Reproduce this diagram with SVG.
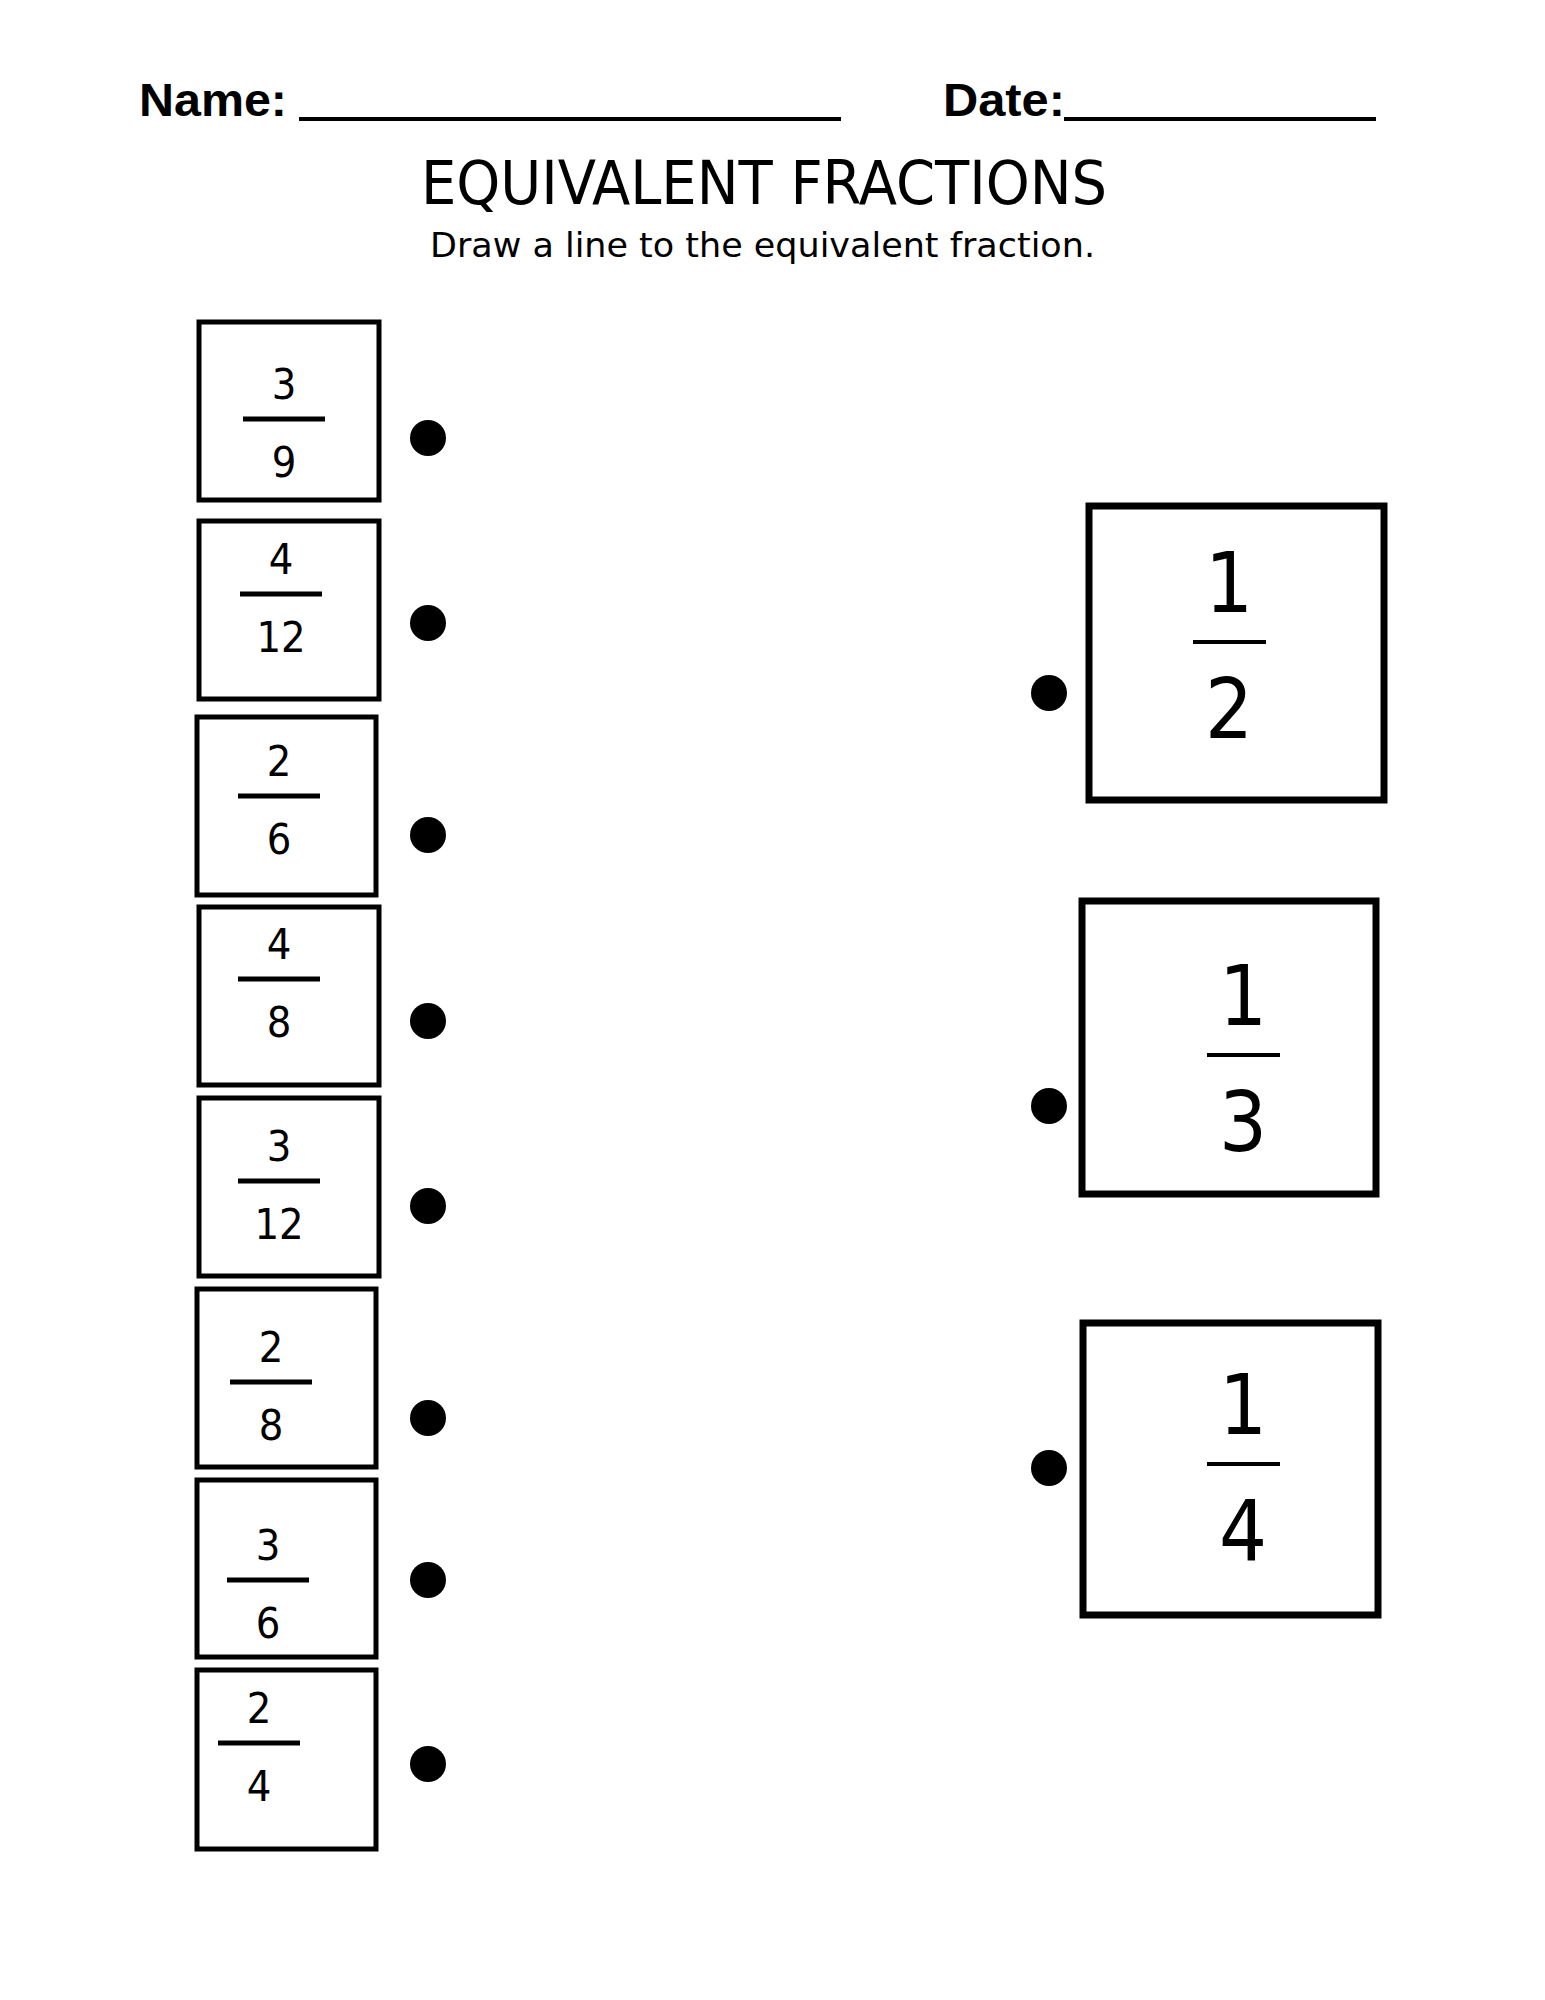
<svg xmlns="http://www.w3.org/2000/svg" width="1545" height="2000" viewBox="0 0 1545 2000">
<style>
.box{fill:#fff;stroke:#000;stroke-width:5}
.bbox{fill:#fff;stroke:#000;stroke-width:7}
.bar{stroke:#000;stroke-width:5}
.bbar{stroke:#000;stroke-width:4}
.num{font-family:"DejaVu Sans Condensed","Liberation Sans",sans-serif;font-size:43px;text-anchor:middle;fill:#000}
.big{font-family:"DejaVu Sans Condensed","Liberation Sans",sans-serif;font-size:84px;text-anchor:middle;fill:#000}
.dot{fill:#000}
.hd{font-family:"Liberation Sans",sans-serif;font-weight:bold;font-size:46px;fill:#000}
</style>
<rect width="1545" height="2000" fill="#fff"/>
<g id="header">
<text class="hd" x="139" y="116" textLength="148" lengthAdjust="spacingAndGlyphs">Name:</text>
<line x1="299" y1="119" x2="841" y2="119" stroke="#000" stroke-width="4"/>
<text class="hd" x="943" y="116" textLength="122" lengthAdjust="spacingAndGlyphs">Date:</text>
<line x1="1064" y1="119" x2="1376" y2="119" stroke="#000" stroke-width="4"/>
<text x="421" y="204" textLength="686" lengthAdjust="spacingAndGlyphs" font-family="DejaVu Sans Condensed, Liberation Sans, sans-serif" font-size="60" fill="#000">EQUIVALENT FRACTIONS</text>
<text x="430" y="257" textLength="665" lengthAdjust="spacingAndGlyphs" font-family="DejaVu Sans Condensed, Liberation Sans, sans-serif" font-size="34" fill="#000">Draw a line  to the equivalent fraction.</text>
</g>
<g id="n1"><rect class="box" x="199" y="322" width="180" height="178"/><line class="bar" x1="243" y1="419" x2="325" y2="419"/><text class="num" x="284" y="399">3</text><text class="num" x="284" y="477">9</text><circle class="dot" cx="428" cy="438" r="18"/></g>
<g id="n2"><rect class="box" x="199" y="521" width="180" height="178"/><line class="bar" x1="240" y1="594" x2="322" y2="594"/><text class="num" x="281" y="574">4</text><text class="num" x="281" y="652">12</text><circle class="dot" cx="428" cy="623" r="18"/></g>
<g id="n3"><rect class="box" x="197" y="717" width="179" height="178"/><line class="bar" x1="238" y1="796" x2="320" y2="796"/><text class="num" x="279" y="776">2</text><text class="num" x="279" y="854">6</text><circle class="dot" cx="428" cy="835" r="18"/></g>
<g id="n4"><rect class="box" x="199" y="907" width="180" height="178"/><line class="bar" x1="238" y1="979" x2="320" y2="979"/><text class="num" x="279" y="959">4</text><text class="num" x="279" y="1037">8</text><circle class="dot" cx="428" cy="1021" r="18"/></g>
<g id="n5"><rect class="box" x="199" y="1098" width="180" height="178"/><line class="bar" x1="238" y1="1181" x2="320" y2="1181"/><text class="num" x="279" y="1161">3</text><text class="num" x="279" y="1239">12</text><circle class="dot" cx="428" cy="1206" r="18"/></g>
<g id="n6"><rect class="box" x="197" y="1289" width="179" height="178"/><line class="bar" x1="230" y1="1382" x2="312" y2="1382"/><text class="num" x="271" y="1362">2</text><text class="num" x="271" y="1440">8</text><circle class="dot" cx="428" cy="1418" r="18"/></g>
<g id="n7"><rect class="box" x="197" y="1480" width="179" height="177"/><line class="bar" x1="227" y1="1580" x2="309" y2="1580"/><text class="num" x="268" y="1560">3</text><text class="num" x="268" y="1638">6</text><circle class="dot" cx="428" cy="1580" r="18"/></g>
<g id="n8"><rect class="box" x="197" y="1670" width="179" height="179"/><line class="bar" x1="218" y1="1743" x2="300" y2="1743"/><text class="num" x="259" y="1723">2</text><text class="num" x="259" y="1801">4</text><circle class="dot" cx="428" cy="1764" r="18"/></g>
<g id="r1"><rect class="bbox" x="1089" y="506" width="295" height="294"/><line class="bbar" x1="1193" y1="642" x2="1266" y2="642"/><text class="big" x="1229" y="612">1</text><text class="big" x="1229" y="738">2</text><circle class="dot" cx="1049" cy="693" r="18"/></g>
<g id="r2"><rect class="bbox" x="1082" y="901" width="294" height="293"/><line class="bbar" x1="1207" y1="1055" x2="1280" y2="1055"/><text class="big" x="1243" y="1025">1</text><text class="big" x="1243" y="1151">3</text><circle class="dot" cx="1049" cy="1106" r="18"/></g>
<g id="r3"><rect class="bbox" x="1083" y="1323" width="295" height="292"/><line class="bbar" x1="1207" y1="1464" x2="1280" y2="1464"/><text class="big" x="1243" y="1434">1</text><text class="big" x="1243" y="1560">4</text><circle class="dot" cx="1049" cy="1468" r="18"/></g>
<g id="connectors"></g>
</svg>
